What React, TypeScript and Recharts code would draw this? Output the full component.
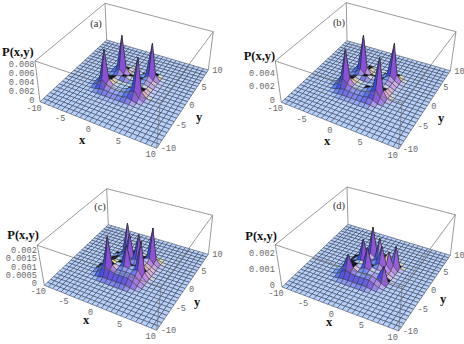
import { ScatterChart, Scatter, XAxis, YAxis } from "recharts";

// Probability surfaces, % of each box height. Rows run y = +5 (back) to -5 (front),
// columns x = -5 to +5, step 5/6. Everything outside this window is flat zero.
const surfaceA = [
  [0, 0, 0, 0, 0, 0, 0, 0, 0, 0, 0, 0, 0],
  [0, 0, 0, 1, 3, 2, 0, 0, 1, 8, 2, 0, 0],
  [0, 0, 3, 12, 4, 2, 1, 2, 10, 90, 12, 1, 0],
  [0, 3, 16, 96, 16, 3, 3, 3, 5, 14, 5, 1, 0],
  [0, 1, 5, 16, 6, 6, 8, 5, 8, 9, 6, 1, 0],
  [0, 0, 3, 6, 8, 10, 5, 8, 6, 7, 4, 1, 0],
  [0, 2, 6, 8, 5, 4, 5, 6, 5, 6, 6, 1, 0],
  [1, 8, 14, 10, 6, 6, 6, 7, 8, 14, 8, 1, 0],
  [3, 18, 90, 18, 7, 6, 6, 10, 18, 96, 14, 2, 0],
  [1, 8, 20, 12, 7, 6, 6, 8, 14, 20, 5, 0, 0],
  [0, 1, 4, 6, 5, 4, 4, 5, 7, 4, 1, 0, 0],
  [0, 0, 0, 1, 1, 1, 1, 1, 1, 1, 0, 0, 0],
  [0, 0, 0, 0, 0, 0, 0, 0, 0, 0, 0, 0, 0],
];
const surfaceB = [
  [0, 0, 0, 0, 0, 0, 0, 0, 0, 0, 0, 0, 0],
  [0, 0, 0, 2, 4, 3, 1, 1, 2, 10, 3, 0, 0],
  [0, 0, 4, 14, 6, 3, 2, 3, 12, 90, 14, 2, 0],
  [0, 4, 18, 96, 18, 5, 4, 4, 8, 16, 7, 1, 0],
  [0, 2, 7, 18, 9, 9, 11, 8, 11, 11, 8, 1, 0],
  [0, 1, 5, 9, 11, 13, 8, 11, 9, 9, 6, 1, 0],
  [0, 3, 9, 11, 8, 7, 8, 10, 8, 8, 8, 1, 0],
  [1, 10, 17, 13, 9, 8, 9, 10, 12, 18, 11, 2, 0],
  [4, 20, 90, 22, 10, 9, 9, 14, 22, 96, 18, 3, 0],
  [1, 10, 24, 15, 10, 9, 9, 11, 17, 24, 8, 1, 0],
  [0, 2, 6, 8, 7, 6, 6, 7, 9, 6, 1, 0, 0],
  [0, 0, 1, 2, 2, 2, 2, 2, 2, 2, 0, 0, 0],
  [0, 0, 0, 0, 0, 0, 0, 0, 0, 0, 0, 0, 0],
];
const surfaceC = [
  [0, 0, 0, 0, 0, 0, 0, 0, 0, 0, 0, 0, 0],
  [0, 0, 0, 1, 3, 4, 3, 1, 1, 4, 3, 1, 0],
  [0, 0, 2, 6, 16, 12, 8, 6, 14, 88, 12, 2, 0],
  [0, 1, 6, 18, 90, 22, 14, 10, 14, 18, 7, 1, 0],
  [0, 1, 6, 12, 22, 72, 22, 78, 18, 12, 6, 1, 0],
  [0, 1, 7, 14, 16, 24, 18, 22, 16, 14, 8, 1, 0],
  [0, 2, 9, 15, 16, 14, 18, 14, 18, 20, 10, 1, 0],
  [0, 3, 12, 20, 18, 20, 68, 20, 22, 88, 14, 2, 0],
  [1, 6, 18, 26, 20, 18, 22, 20, 20, 24, 10, 1, 0],
  [1, 8, 24, 92, 24, 16, 18, 18, 18, 16, 7, 1, 0],
  [0, 3, 12, 22, 18, 14, 14, 14, 14, 9, 3, 0, 0],
  [0, 0, 2, 4, 4, 4, 4, 5, 4, 2, 0, 0, 0],
  [0, 0, 0, 0, 0, 0, 0, 0, 0, 0, 0, 0, 0],
];
const surfaceD = [
  [0, 0, 0, 0, 0, 0, 0, 0, 0, 0, 0, 0, 0],
  [0, 0, 0, 1, 3, 5, 6, 4, 2, 1, 0, 0, 0],
  [0, 0, 2, 6, 14, 20, 16, 10, 6, 5, 3, 0, 0],
  [0, 0, 4, 12, 20, 82, 22, 18, 12, 12, 52, 3, 0],
  [0, 1, 7, 16, 22, 24, 18, 68, 20, 42, 12, 1, 0],
  [0, 1, 9, 18, 62, 22, 18, 22, 58, 18, 7, 1, 0],
  [0, 2, 11, 14, 18, 14, 16, 16, 24, 14, 5, 1, 0],
  [0, 3, 12, 16, 16, 18, 62, 18, 16, 16, 6, 1, 0],
  [1, 4, 16, 24, 18, 14, 20, 18, 16, 16, 38, 1, 0],
  [1, 5, 20, 48, 20, 14, 14, 16, 16, 11, 5, 0, 0],
  [0, 2, 10, 16, 14, 12, 12, 12, 12, 7, 2, 0, 0],
  [0, 0, 2, 3, 3, 3, 3, 4, 3, 1, 0, 0, 0],
  [0, 0, 0, 0, 0, 0, 0, 0, 0, 0, 0, 0, 0],
];

const xTicks = [-10, -5, 0, 5, 10];
const yTicks = [-10, -5, 0, 5, 10];
const zTicksA = ["0", "0.002", "0.004", "0.006", "0.008"];
const zTicksB = ["0", "0.002", "0.004"];
const zTicksC = ["0", "0.0005", "0.001", "0.0015", "0.002"];
const zTicksD = ["0", "0.001", "0.002"];

const W = 232;
const H = 172;
const CELLS = 24;
const WINDOW = 6;

type Pt = [number, number];

// floor and top corners, order (-10,-10) (10,-10) (10,10) (-10,10), in panel pixels
const panels = [
  {
    left: 0, top: 0, name: "(a)", surface: surfaceA, zTicks: zTicksA, zMax: 0.009,
    floor: [[40, 101.7], [156.7, 148.3], [208.3, 70], [106.7, 40]] as Pt[],
    roof: [[35, 61], [160, 103.3], [213.3, 31.7], [105, 3.3]] as Pt[],
    pLabel: [2, 56], xLabel: [82, 144], yLabel: [199, 121], nameAt: [96, 27],
  },
  {
    left: 232, top: 0, name: "(b)", surface: surfaceB, zTicks: zTicksB, zMax: 0.00595,
    floor: [[49.3, 102.3], [166.7, 149], [218.3, 70.7], [115, 40.7]] as Pt[],
    roof: [[43.3, 61], [170, 103.3], [224, 31.7], [114.3, 2.7]] as Pt[],
    pLabel: [11.7, 60], xLabel: [95, 145], yLabel: [209, 122], nameAt: [107, 26],
  },
  {
    left: 0, top: 172, name: "(c)", surface: surfaceC, zTicks: zTicksC, zMax: 0.0024,
    floor: [[44.3, 113.3], [156.7, 158.3], [208.3, 82.3], [108.3, 52.7]] as Pt[],
    roof: [[37.3, 73.3], [161, 115], [212.7, 43.3], [106.7, 16.7]] as Pt[],
    pLabel: [7.3, 66.7], xLabel: [86, 152], yLabel: [197, 134], nameAt: [100, 38],
  },
  {
    left: 232, top: 172, name: "(d)", surface: surfaceD, zTicks: zTicksD, zMax: 0.00267,
    floor: [[50, 115], [166.7, 159], [218.3, 83.3], [116, 52.3]] as Pt[],
    roof: [[43.3, 72.7], [170, 115], [223.3, 42.7], [115, 15]] as Pt[],
    pLabel: [13.3, 67.7], xLabel: [97, 154], yLabel: [211, 131], nameAt: [107, 37],
  },
];

// unit square to quad
function homography(q: Pt[]) {
  const [[x0, y0], [x1, y1], [x2, y2], [x3, y3]] = q;
  const dx1 = x1 - x2, dx2 = x3 - x2, sx = x0 - x1 + x2 - x3;
  const dy1 = y1 - y2, dy2 = y3 - y2, sy = y0 - y1 + y2 - y3;
  const det = dx1 * dy2 - dx2 * dy1;
  const g = (sx * dy2 - dx2 * sy) / det;
  const h = (dx1 * sy - sx * dy1) / det;
  const a = x1 - x0 + g * x1, b = x3 - x0 + h * x3;
  const d = y1 - y0 + g * y1, e = y3 - y0 + h * y3;
  return (u: number, v: number): Pt => {
    const w = g * u + h * v + 1;
    return [(a * u + b * v + x0) / w, (d * u + e * v + y0) / w];
  };
}

// camera frame for viewpoint (1.3, -2.4, 2)
const CAM_X = [0.879, 0.476, 0];
const CAM_Y = [-0.281, 0.518, 0.807];
const CAM_Z = [0.385, -0.71, 0.59];
const dot = (a: number[], b: number[]) => a[0] * b[0] + a[1] * b[1] + a[2] * b[2];

// fitted by eye: floor pale blue, left faces blue, front purple, right pink
function shade(n: number[]) {
  const len = Math.hypot(n[0], n[1], n[2]);
  const vx = dot(n, CAM_X) / len, vy = dot(n, CAM_Y) / len, vz = dot(n, CAM_Z) / len;
  if (vz < 0.02) return "#0a0a14";
  const r = 0.55 + 0.32 * vx + 0.2 * vy;
  const g = 0.48 + 0.15 * vx + 0.42 * vy;
  const b = 0.9 + 0.12 * vy - 0.9 * Math.max(0, vx + vy - 0.95);
  const to = (c: number) => Math.round(Math.max(0.12, Math.min(1, c)) * 255);
  return `rgb(${to(r)},${to(g)},${to(b)})`;
}

function buildPanel(p: (typeof panels)[number]) {
  const base = homography(p.floor);
  const roof = homography(p.roof);
  const project = (u: number, v: number, z: number): Pt => {
    const f = base(u, v), t = roof(u, v);
    return [f[0] + (t[0] - f[0]) * z, f[1] + (t[1] - f[1]) * z];
  };
  const height = (i: number, j: number) => {
    const ix = i - CELLS / 2, iy = j - CELLS / 2;
    if (Math.abs(ix) > WINDOW || Math.abs(iy) > WINDOW) return 0;
    return p.surface[WINDOW - iy][ix + WINDOW] / 100;
  };
  const cells: any[] = [];
  // painter's order: back corner (-10,10) first
  for (let i = 0; i < CELLS; i++) {
    for (let j = CELLS - 1; j >= 0; j--) {
      const c = [[i, j], [i + 1, j], [i + 1, j + 1], [i, j + 1]];
      const zs = c.map(([a, b]) => height(a, b));
      const quad = c.map(([a, b], k) => project(a / CELLS, b / CELLS, zs[k]));
      // z exaggerated so that low slopes already turn purple
      const du = [2 / CELLS, 2 / CELLS, (zs[2] - zs[0]) * 2];
      const dv = [-2 / CELLS, 2 / CELLS, (zs[3] - zs[1]) * 2];
      const normal = [
        du[1] * dv[2] - du[2] * dv[1],
        du[2] * dv[0] - du[0] * dv[2],
        du[0] * dv[1] - du[1] * dv[0],
      ];
      const px = quad.reduce((s, q) => s + q[0], 0) / 4;
      const py = quad.reduce((s, q) => s + q[1], 0) / 4;
      cells.push({ px, py, quad, fill: shade(normal) });
    }
  }
  const corner = (q: Pt[], k: number) => ({ px: q[k][0], py: q[k][1] });
  const backEdges = [
    [corner(p.floor, 0), corner(p.roof, 0)],
    [corner(p.floor, 3), corner(p.roof, 3)],
    [corner(p.floor, 2), corner(p.roof, 2)],
    [corner(p.roof, 0), corner(p.roof, 3)],
    [corner(p.roof, 3), corner(p.roof, 2)],
  ];
  const frontEdges = [
    [corner(p.roof, 0), corner(p.roof, 1)],
    [corner(p.roof, 1), corner(p.roof, 2)],
    [corner(p.floor, 1), corner(p.roof, 1)],
  ];
  const mono = { family: "'Liberation Mono', monospace", size: 8.6, weight: 400, color: "#6a6a6a" };
  const serif = { family: "'Liberation Serif', serif", size: 12.5, weight: 700, color: "#111" };
  const labels: any[] = [];
  xTicks.forEach((t) => {
    const [x, y] = project((t + 10) / 20, 0, 0);
    labels.push({ px: x - 6, py: y + 9, text: String(t), anchor: "middle", ...mono });
  });
  yTicks.forEach((t) => {
    const [x, y] = project(1, (t + 10) / 20, 0);
    labels.push({ px: x + 4, py: y + 3, text: String(t), anchor: "start", ...mono });
  });
  p.zTicks.forEach((t) => {
    const [, y] = project(0, 0, Number(t) / p.zMax);
    labels.push({ px: p.roof[0][0] - 0.5, py: y + 1, text: t, anchor: "end", ...mono });
  });
  labels.push({ px: p.pLabel[0], py: p.pLabel[1], text: "P(x,y)", anchor: "start", ...serif });
  labels.push({ px: p.xLabel[0], py: p.xLabel[1], text: "x", anchor: "middle", ...serif });
  labels.push({ px: p.yLabel[0], py: p.yLabel[1], text: "y", anchor: "middle", ...serif });
  labels.push({
    px: p.nameAt[0], py: p.nameAt[1], text: p.name, anchor: "middle",
    family: "'Liberation Serif', serif", size: 10.5, weight: 400, color: "#333",
  });
  return { cells, backEdges, frontEdges, labels };
}

function CellShape({ cx, cy, payload }: any) {
  const pts = payload.quad
    .map((q: Pt) => `${cx + q[0] - payload.px},${cy + q[1] - payload.py}`)
    .join(" ");
  return <polygon points={pts} fill={payload.fill} stroke="#2c2c36" strokeWidth={0.5} strokeLinejoin="round" />;
}

function LabelShape({ cx, cy, payload }: any) {
  return (
    <text
      x={cx}
      y={cy}
      textAnchor={payload.anchor}
      fontFamily={payload.family}
      fontSize={payload.size}
      fontWeight={payload.weight}
      fill={payload.color}
    >
      {payload.text}
    </text>
  );
}

const NoDot = () => null;

function Panel({ spec }: { spec: (typeof panels)[number] }) {
  const { cells, backEdges, frontEdges, labels } = buildPanel(spec);
  const edge = { stroke: "#6e6e6e", strokeWidth: 0.7 };
  return (
    <div style={{ position: "absolute", left: spec.left, top: spec.top }}>
      <ScatterChart width={W} height={H} margin={{ top: 0, right: 0, bottom: 0, left: 0 }}>
        <XAxis type="number" dataKey="px" domain={[0, W]} hide />
        <YAxis type="number" dataKey="py" domain={[0, H]} reversed hide />
        {backEdges.map((d, i) => (
          <Scatter key={`b${i}`} data={d} line={edge} shape={NoDot} isAnimationActive={false} />
        ))}
        <Scatter data={cells} shape={CellShape} isAnimationActive={false} />
        {frontEdges.map((d, i) => (
          <Scatter key={`f${i}`} data={d} line={edge} shape={NoDot} isAnimationActive={false} />
        ))}
        <Scatter data={labels} shape={LabelShape} isAnimationActive={false} />
      </ScatterChart>
    </div>
  );
}

export default function App() {
  return (
    <div style={{ position: "absolute", left: 0, top: 0, width: 464, height: 344, background: "#fff" }}>
      {panels.map((p) => (
        <Panel key={p.name} spec={p} />
      ))}
    </div>
  );
}
